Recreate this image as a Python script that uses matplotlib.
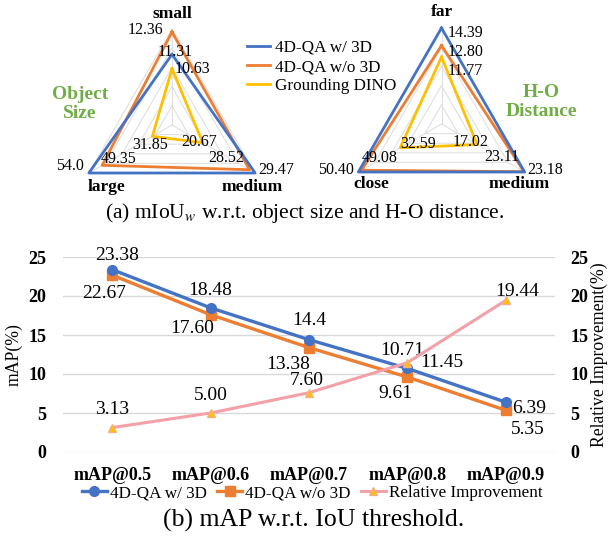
import numpy as np
import matplotlib
matplotlib.use("Agg")
import matplotlib.pyplot as plt

plt.rcParams['font.family'] = ['Liberation Serif', 'DejaVu Serif']
plt.rcParams['mathtext.fontset'] = 'stix'

# ---- data ----
series_names = ["4D-QA w/ 3D", "4D-QA w/o 3D", "Grounding DINO"]
series_colors = ["#4472C4", "#ED7D31", "#FFC000"]

size_axes = ["small", "medium", "large"]
size_vals = [[11.31, 29.47, 54.0],
             [12.36, 28.52, 49.35],
             [10.63, 20.67, 31.85]]
size_labels = [["11.31", "29.47", "54.0"],
               ["12.36", "28.52", "49.35"],
               ["10.63", "20.67", "31.85"]]
size_lo = [8.0, 15.5, 25.0]
size_hi = [12.5, 29.47, 54.0]

dist_axes = ["far", "medium", "close"]
dist_vals = [[14.39, 23.18, 50.40],
             [12.80, 23.11, 49.08],
             [11.77, 17.02, 32.59]]
dist_labels = [["14.39", "23.18", "50.40"],
               ["12.80", "23.11", "49.08"],
               ["11.77", "17.02", "32.59"]]
dist_lo = [5.7, 12.4, 15.0]
dist_hi = [14.39, 23.18, 50.40]

thresholds = ["mAP@0.5", "mAP@0.6", "mAP@0.7", "mAP@0.8", "mAP@0.9"]
map_3d = [23.38, 18.48, 14.4, 10.71, 6.39]
map_no3d = [22.67, 17.60, 13.38, 9.61, 5.35]
rel_impr = [3.13, 5.00, 7.60, 11.45, 19.44]
map_3d_lbl = ["23.38", "18.48", "14.4", "10.71", "6.39"]
map_no3d_lbl = ["22.67", "17.60", "13.38", "9.61", "5.35"]
rel_lbl = ["3.13", "5.00", "7.60", "11.45", "19.44"]

W, H = 611, 542
fig = plt.figure(figsize=(W / 100, H / 100), dpi=100)

angles = np.deg2rad([90, -30, 210])


def radar(rect, axes_names, vals, labels, lo, hi, val_offsets, name_offsets):
    ax = fig.add_axes(rect)
    ax.set_xlim(-1.5, 1.5)
    ax.set_ylim(-1.25, 1.25)
    ax.axis('off')
    # grid
    for lvl in [0.2, 0.4, 0.6, 0.8, 1.0]:
        gx = np.append(lvl * np.cos(angles), lvl * np.cos(angles[0]))
        gy = np.append(lvl * np.sin(angles), lvl * np.sin(angles[0]))
        ax.plot(gx, gy, color="#e0e0e0", lw=0.8, zorder=1)
    for a in angles:
        ax.plot([0, np.cos(a)], [0, np.sin(a)], color="#e0e0e0", lw=0.8, zorder=1)
    lines = []
    for s in range(3):
        r = (np.array(vals[s]) - np.array(lo)) / (np.array(hi) - np.array(lo))
        x = r * np.cos(angles)
        y = r * np.sin(angles)
        ln, = ax.plot(np.append(x, x[0]), np.append(y, y[0]), color=series_colors[s],
                      lw=2, zorder=3 + (2 - s))
        lines.append(ln)
        for k in range(3):
            ax.annotate(labels[s][k], (x[k], y[k]), xytext=val_offsets[s][k],
                        textcoords='offset pixels', ha='center', va='center',
                        fontsize=11.5, zorder=6)
    for k in range(3):
        ax.annotate(axes_names[k], (np.cos(angles[k]), np.sin(angles[k])),
                    xytext=name_offsets[k], textcoords='offset pixels',
                    ha='center', va='center', fontsize=12.5, fontweight='bold')
    return ax, lines


# left radar: center (172,125) px, radius 96 px
left_off = [[(3, 2), (21, 3), (-19, 7)],
            [(-27, 2), (-23, 12), (16, 6)],
            [(20, 0), (-4, 1), (-2, -9)]]
ax_l, radar_lines = radar([(172 - 144) / W, (H - 125 - 120) / H, 288 / W, 240 / H],
                          size_axes, size_vals, size_labels, size_lo, size_hi,
                          left_off, [(0, 15), (-3, -14), (18, -14)])

right_off = [[(24, -5), (20, 2), (-22, 2)],
             [(24, -6), (-22, 15), (18, 12)],
             [(24, -14), (-7, 3), (18, 4)]]
ax_r, _ = radar([(441.5 - 144) / W, (H - 124 - 120) / H, 288 / W, 240 / H],
                dist_axes, dist_vals, dist_labels, dist_lo, dist_hi,
                right_off, [(0, 16), (-5, -12), (13, -12)])

fig.text(80 / W, 1 - 104 / H, "Object\nSize", ha='center', va='center',
         fontsize=14, fontweight='bold', color="#70AD47", linespacing=1.15)
fig.text(541 / W, 1 - 102 / H, "H-O\nDistance", ha='center', va='center',
         fontsize=14, fontweight='bold', color="#70AD47", linespacing=1.15)

fig.legend(radar_lines, series_names, loc='center left',
           bbox_to_anchor=(232 / W, 1 - 67 / H),
           frameon=False, fontsize=12.3, handlelength=1.3, labelspacing=0.2,
           handletextpad=0.3)

fig.text(305 / W, 1 - 213 / H, r"(a) mIoU$_{w}$ w.r.t. object size and H-O distance.",
         ha='center', va='center', fontsize=15.5)

# ---- bottom line chart ----
ax = fig.add_axes([63 / W, 1 - 452 / H, (555 - 63) / W, (452 - 257) / H])
xs = np.arange(len(thresholds))
ax.set_xlim(-0.5, len(thresholds) - 0.5)
ax.set_ylim(0, 25)
ax.set_yticks([0, 5, 10, 15, 20, 25])
ax.yaxis.grid(True, color="#d9d9d9", lw=1)
ax.set_axisbelow(True)
for sp in ax.spines.values():
    sp.set_visible(False)
ax.tick_params(length=0)
ax.set_xticks(xs)
ax.set_xticklabels(thresholds, fontweight='bold', fontsize=13)
ax.tick_params(axis='x', pad=11)
ax.tick_params(axis='y', pad=12)
for t in ax.get_yticklabels():
    t.set_fontweight('bold')
    t.set_fontsize(13)
ax.set_ylabel("mAP(%)", fontsize=12.7, labelpad=4)

l1, = ax.plot(xs, map_3d, color="#4472C4", lw=2.4, marker='o', ms=7, zorder=4)
l2, = ax.plot(xs, map_no3d, color="#ED7D31", lw=2.4, marker='s', ms=7, zorder=3)

ax2 = ax.twinx()
ax2.set_ylim(0, 25)
ax2.set_yticks([0, 5, 10, 15, 20, 25])
for sp in ax2.spines.values():
    sp.set_visible(False)
ax2.tick_params(length=0, pad=11)
for t in ax2.get_yticklabels():
    t.set_fontweight('bold')
    t.set_fontsize(13)
ax2.set_ylabel("Relative Improvement(%)", fontsize=12.7, labelpad=2)
l3, = ax2.plot(xs, rel_impr, color="#F4A0A8", lw=2.2, marker='^', ms=6,
               mfc="#FFC000", mec="#F4B183", zorder=2)

off_3d = [(5, 14), (0, 17), (0, 19), (-5, 18), (23, -6)]
off_no3d = [(-8, -18), (-18, -14), (-21, -17), (-12, -16), (22, -19)]
off_rel = [(0, 18), (0, 18), (-2, 12), (34, 0), (11, 9)]
for i in range(len(xs)):
    ax.annotate(map_3d_lbl[i], (xs[i], map_3d[i]), xytext=off_3d[i],
                textcoords='offset pixels', ha='center', va='center', fontsize=14)
    ax.annotate(map_no3d_lbl[i], (xs[i], map_no3d[i]), xytext=off_no3d[i],
                textcoords='offset pixels', ha='center', va='center', fontsize=14)
    ax2.annotate(rel_lbl[i], (xs[i], rel_impr[i]), xytext=off_rel[i],
                 textcoords='offset pixels', ha='center', va='center', fontsize=14)

fig.legend([l1, l2, l3], ["4D-QA w/ 3D", "4D-QA w/o 3D", "Relative Improvement"],
           loc='center', bbox_to_anchor=(312 / W, 1 - 493 / H), ncol=3, frameon=False,
           fontsize=12.3, handlelength=1.5, handletextpad=0.15, columnspacing=0.6)

fig.text(314 / W, 1 - 520 / H, "(b) mAP w.r.t. IoU threshold.",
         ha='center', va='center', fontsize=18.5)

fig.savefig("out.png", dpi=100)
